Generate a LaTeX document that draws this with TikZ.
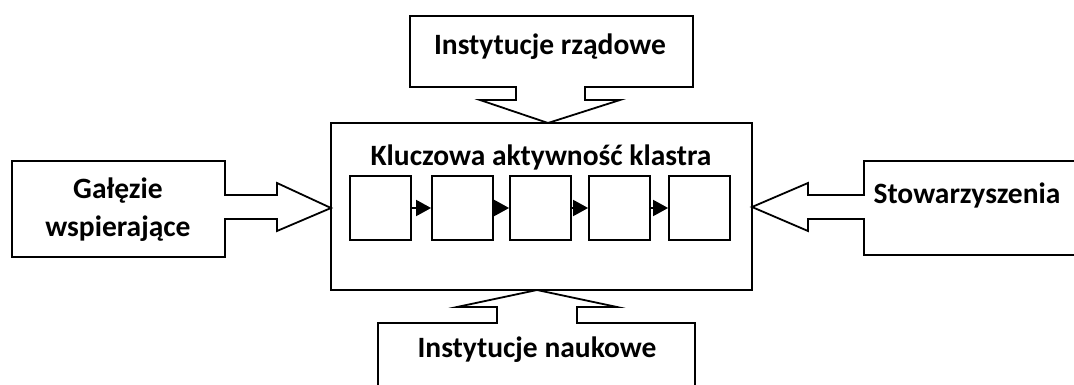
\documentclass[tikz,border=0pt]{standalone}
\usepackage{fontspec}
\setmainfont{Carlito}
\usetikzlibrary{arrows.meta}
\begin{document}
\begin{tikzpicture}[x=1pt,y=-1pt,
  shape line/.style={draw=black,line width=1.8pt,fill=white,line join=miter},
  label text/.style={font=\bfseries\fontsize{29.5}{38}\selectfont,inner sep=0pt,align=center},
  stepbox/.style={draw=black,line width=1.8pt,minimum width=61pt,minimum height=64pt,inner sep=0pt},
  flow/.style={line width=1.8pt,-{Triangle[length=15pt,width=16pt]}}]
\useasboundingbox (0,0) rectangle (1074,385);
\begin{scope}
\clip (0,0) rectangle (1074,385);
% main box
\node[draw=black,line width=1.8pt,minimum width=421pt,minimum height=167pt,inner sep=0pt] (main) at (541.5,206.5) {};
% top callout
\draw[shape line] (410,16) -- (693,16) -- (693,87) -- (585,87) -- (585,100) -- (620,100) -- (548,123) -- (480,100) -- (516,100) -- (516,87) -- (410,87) -- cycle;
% left callout
\draw[shape line] (12,161) -- (225,161) -- (225,195) -- (277,195) -- (277,183) -- (331,208) -- (277,231) -- (277,219) -- (225,219) -- (225,257) -- (12,257) -- cycle;
% right callout
\draw[shape line] (1085,161) -- (864,161) -- (864,195) -- (808,195) -- (808,183) -- (752,207) -- (808,231) -- (808,219) -- (864,219) -- (864,255) -- (1085,255);
% bottom callout
\draw[shape line] (378,395) -- (378,323) -- (497,323) -- (497,307) -- (457,307) -- (537,290) -- (617,307) -- (577,307) -- (577,323) -- (695,323) -- (695,395);
\end{scope}
% texts
\node[label text] (rzad) at (550,47) {Instytucje rządowe};
\node[label text] (klaster) at (541,157) {Kluczowa aktywność klastra};
\node[label text] (galezie) at (118,210) {Gałęzie\\wspierające};
\node[label text] (stow) at (967,195) {Stowarzyszenia};
\node[label text] (nauka) at (537,350) {Instytucje naukowe};
% steps
\node[stepbox] (s1) at (380.5,208) {};
\node[stepbox] (s2) at (462.5,208) {};
\node[stepbox] (s3) at (540.5,208) {};
\node[stepbox] (s4) at (619.5,208) {};
\node[stepbox] (s5) at (699.5,208) {};
\draw[flow] (s1) -- (s2);
\draw[flow] (s2) -- (s3);
\draw[flow] (s3) -- (s4);
\draw[flow] (s4) -- (s5);
\end{tikzpicture}
\end{document}
